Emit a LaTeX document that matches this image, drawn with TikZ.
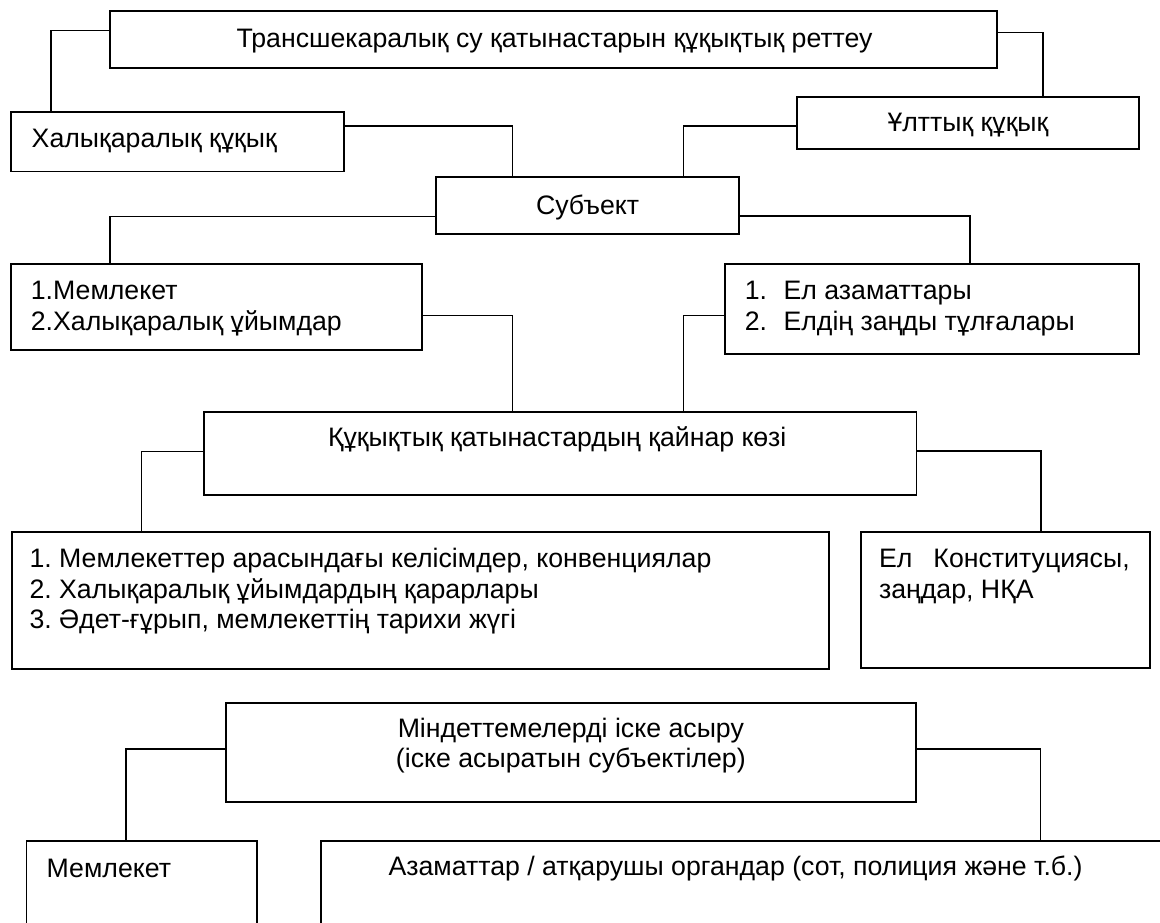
\documentclass[tikz,border=0pt]{standalone}
\usepackage{fontspec}
\setmainfont{Liberation Sans}
\usetikzlibrary{positioning}
\frenchspacing

\tikzset{
  box/.style={draw, line width=1.8pt, rectangle, anchor=north west, inner sep=0pt},
  lbl/.style={inner sep=0pt, align=left},
  link/.style={line width=1.5pt}
}

\begin{document}
\begin{tikzpicture}[x=1pt, y=-1pt, font=\fontsize{26.7}{30.7}\selectfont]
	\clip (0,0) rectangle (1160,923);
	\fill [white] (0,0) rectangle (1160,923);
	% boxes
	\node (rett) [box, minimum width=886.7pt, minimum height=57.3pt] at (109.3,10) {};
	\node (halyk) [box, minimum width=332.7pt, minimum height=59.7pt] at (10,111) {};
	\node (ult) [box, minimum width=341.3pt, minimum height=52.3pt] at (796.4,96) {};
	\node (subj) [box, minimum width=303.3pt, minimum height=56.7pt] at (435,176) {};
	\node (memlist) [box, minimum width=411pt, minimum height=86pt] at (10,263.3) {};
	\node (ellist) [box, minimum width=413.4pt, minimum height=90pt] at (724.3,263.3) {};
	\node (koz) [box, minimum width=712.8pt, minimum height=83.3pt] at (202.7,411) {};
	\node (kelisim) [box, minimum width=817pt, minimum height=137pt] at (10.7,530.7) {};
	\node (konst) [box, minimum width=289pt, minimum height=136.6pt] at (860,530.7) {};
	\node (mindet) [box, minimum width=690.1pt, minimum height=99pt] at (224.9,702.3) {};
	\node (memleket) [box, minimum width=230.5pt, minimum height=110pt] at (25.5,840) {};
	\node (azam) [box, minimum width=900pt, minimum height=110pt] at (320,840) {};

	% texts
	\node (rett-t) [lbl] at ([xshift=1pt,yshift=-1.5pt]rett.center) {Трансшекаралық су қатынастарын құқықтық реттеу};
	\node (halyk-t) [lbl, anchor=west] at ([xshift=21.5pt,yshift=0.7pt]halyk.west) {Халықаралық құқық};
	\node (ult-t) [lbl] at ([yshift=-2.3pt]ult.center) {Ұлттық құқық};
	\node (subj-t) [lbl] at ([yshift=-2pt]subj.center) {Субъект};
	\node (memlist-t) [lbl, anchor=west] at ([xshift=20.7pt,yshift=-1.4pt]memlist.west) {1.Мемлекет\\2.Халықаралық ұйымдар};
	\node (ellist-t) [lbl, anchor=west] at ([xshift=20.3pt,yshift=0.6pt]ellist.west)
		{\makebox[38.8pt][l]{1.}Ел азаматтары\\\makebox[38.8pt][l]{2.}Елдің заңды тұлғалары};
	\node (koz-t) [lbl] at ([xshift=-2.8pt,yshift=14pt]koz.center) {Құқықтық қатынастардың қайнар көзі};
	\node (kelisim-t) [lbl, anchor=west] at ([xshift=18.6pt,yshift=9pt]kelisim.west)
		{1. Мемлекеттер арасындағы келісімдер, конвенциялар\\2. Халықаралық ұйымдардың қарарлары\\3. Әдет-ғұрып, мемлекеттің тарихи жүгі};
	\node (konst-t) [lbl, anchor=west] at ([xshift=18.9pt,yshift=23.6pt]konst.west) {\makebox[54.4pt][l]{Ел}Конституциясы,\\заңдар, НҚА};
	\node (mindet-t) [lbl, align=center] at ([yshift=7pt]mindet.center) {Міндеттемелерді іске асыру\\(іске асыратын субъектілер)};
	\node (memleket-t) [lbl, anchor=west] at ([xshift=21pt,yshift=-28.2pt]memleket.north west) {Мемлекет};
	\node (azam-t) [lbl, anchor=west] at ([xshift=68.4pt,yshift=-28pt]azam.north west) {Азаматтар / атқарушы органдар (сот, полиция және т.б.)};

	% connectors
	\draw [link] ([yshift=-20.7pt]rett.north west) -| ([xshift=41pt]halyk.north west);
	\draw [link] ([yshift=-22.3pt]rett.north east) -| ([xshift=-96.7pt]ult.north east);
	\draw [link] ([yshift=-15pt]halyk.north east) -| ([xshift=77.3pt]subj.north west);
	\draw [link] ([yshift=-30pt]ult.north west) -| ([xshift=-56.6pt]subj.north east);
	\draw [link] ([yshift=-40.3pt]subj.north west) -| ([xshift=100pt]memlist.north west);
	\draw [link] ([yshift=-40pt]subj.north east) -| ([xshift=245.9pt]ellist.north west);
	\draw [link] ([yshift=-52.4pt]memlist.north east) -| ([xshift=309.6pt]koz.north west);
	\draw [link] ([yshift=-52pt]ellist.north west) -| ([xshift=-233.8pt]koz.north east);
	\draw [link] ([yshift=-40.7pt]koz.north west) -| ([xshift=131pt]kelisim.north west);
	\draw [link] ([yshift=-40pt]koz.north east) -| ([xshift=181pt]konst.north west);
	\draw [link] ([yshift=-46.7pt]mindet.north west) -| ([xshift=100.7pt]memleket.north west);
	\draw [link] ([yshift=-46.7pt]mindet.north east) -| ([xshift=720.7pt]azam.north west);
\end{tikzpicture}
\end{document}
